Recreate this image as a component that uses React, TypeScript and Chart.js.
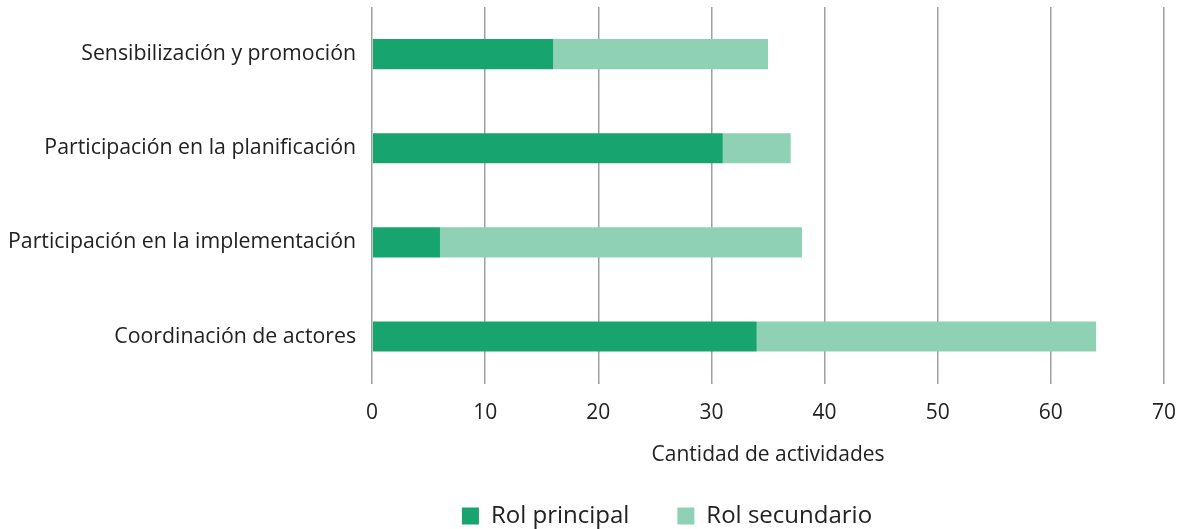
import React, { useEffect, useRef } from "react";
import { Chart, registerables } from "chart.js";

Chart.register(...registerables);

const categories = [
  "Sensibilización y promoción",
  "Participación en la planificación",
  "Participación en la implementación",
  "Coordinación de actores",
];
const rolPrincipal = [16, 31, 6, 34];
const rolSecundario = [19, 6, 32, 30];
const xTicks = [0, 10, 20, 30, 40, 50, 60, 70];

const legendShift = {
  id: "legendShift",
  afterLayout(chart: any) {
    const lg = chart.legend;
    if (lg) {
      lg.left += 89;
      lg.right += 89;
    }
  },
};

export default function App() {
  const ref = useRef<HTMLCanvasElement>(null);
  useEffect(() => {
    document.body.style.margin = "0";
    const ctx = ref.current!;
    const chart = new Chart(ctx, {
      type: "bar",
      data: {
        labels: categories,
        datasets: [
          {
            label: "Rol principal",
            data: rolPrincipal,
            backgroundColor: "#18a46e",
            categoryPercentage: 1,
            barPercentage: 0.32,
          },
          {
            label: "Rol secundario",
            data: rolSecundario,
            backgroundColor: "#8fd1b5",
            categoryPercentage: 1,
            barPercentage: 0.32,
          },
        ],
      },
      plugins: [legendShift],
      options: {
        indexAxis: "y",
        responsive: false,
        animation: false,
        layout: { padding: { top: 7, right: 21, left: -8, bottom: -9 } },
        scales: {
          x: {
            stacked: true,
            min: 0,
            max: 70,
            afterBuildTicks: (axis: any) => {
              axis.ticks = xTicks.map((v) => ({ value: v }));
            },
            afterFit: (scale: any) => {
              scale.paddingLeft = 0;
              scale.paddingRight = 0;
            },
            grid: {
              color: "#a0a0a0",
              lineWidth: 1.5,
              drawTicks: true,
              tickLength: 0,
            },
            border: { display: false },
            ticks: {
              color: "#222",
              font: { family: "Open Sans", size: 21 },
              padding: 17,
            },
            title: {
              display: true,
              text: "Cantidad de actividades",
              color: "#222",
              font: { family: "Open Sans", size: 21 },
              padding: { top: 0, bottom: -12 },
            },
          },
          y: {
            stacked: true,
            afterFit: (scale: any) => {
              scale.paddingTop = 0;
              scale.paddingBottom = 0;
            },
            grid: { display: false, drawTicks: false },
            border: { display: false },
            ticks: {
              color: "#222",
              font: { family: "Open Sans", size: 21.3 },
              padding: 16,
            },
          },
        },
        plugins: {
          legend: {
            position: "bottom",
            labels: {
              color: "#222",
              font: { family: "Open Sans", size: 24 },
              boxWidth: 17,
              boxHeight: 17,
              padding: 48,
            },
          },
          tooltip: { enabled: false },
        },
      },
    });
    return () => chart.destroy();
  }, []);
  return <canvas ref={ref} width={1185} height={529} style={{ display: "block" }} />;
}
